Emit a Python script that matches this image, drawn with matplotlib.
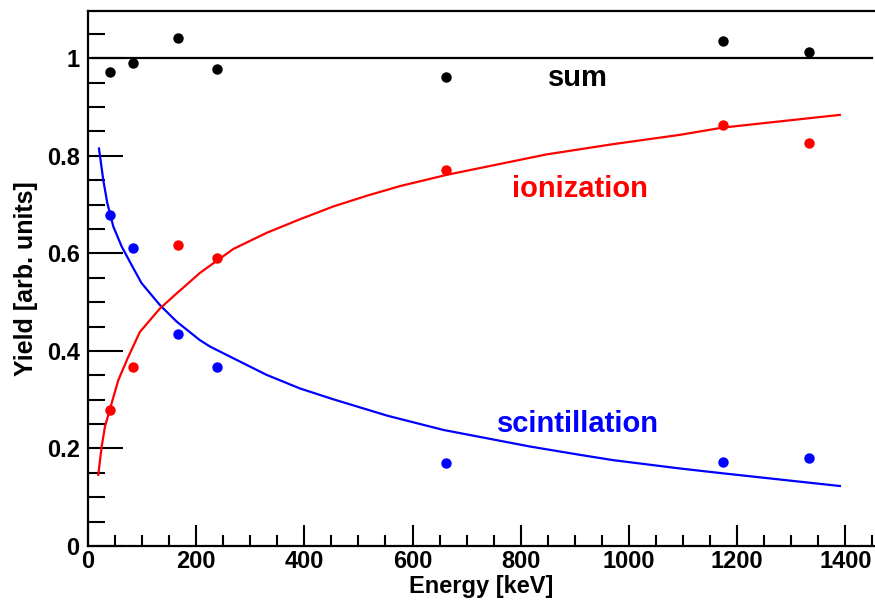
import matplotlib
matplotlib.use("Agg")
import matplotlib.pyplot as plt
from matplotlib.ticker import MultipleLocator

# Measured points
energy = [40, 84, 166, 238, 662, 1174, 1333]
sum_yield = [0.972, 0.990, 1.042, 0.978, 0.962, 1.035, 1.013]
ion_yield = [0.279, 0.367, 0.617, 0.591, 0.771, 0.863, 0.826]
scint_yield = [0.679, 0.611, 0.435, 0.367, 0.170, 0.172, 0.180]

# Fit curves
scint_fit_x = [20.3, 28.3, 35.7, 46.8, 62.3, 80.7, 99, 133, 164, 207, 225.5, 268.6,
               330, 392, 453, 554, 657, 817, 909, 971, 1094, 1174, 1390]
scint_fit_y = [0.815, 0.750, 0.703, 0.655, 0.614, 0.576, 0.539, 0.494, 0.460, 0.422,
               0.409, 0.385, 0.351, 0.323, 0.301, 0.267, 0.238, 0.204, 0.187, 0.176,
               0.159, 0.149, 0.123]
ion_fit_x = [19, 25.3, 31.4, 42, 56, 74.5, 96, 133, 164, 207, 268.6, 330, 392, 453,
             515, 577, 663, 848, 971, 1094, 1174, 1390]
ion_fit_y = [0.146, 0.204, 0.245, 0.286, 0.340, 0.388, 0.439, 0.487, 0.518, 0.560,
             0.609, 0.642, 0.670, 0.696, 0.718, 0.738, 0.761, 0.803, 0.824, 0.843,
             0.858, 0.884]
sum_line_x = [8, 1450]
sum_line_y = [1.0, 1.0]

xlabels = ["0", "200", "400", "600", "800", "1000", "1200", "1400"]
xticks = [0, 200, 400, 600, 800, 1000, 1200, 1400]
yticks = [0, 0.2, 0.4, 0.6, 0.8, 1.0]
ylabels = ["0", "0.2", "0.4", "0.6", "0.8", "1"]

plt.rcParams['font.family'] = ['Liberation Sans', 'DejaVu Sans']

W, H = 875, 605
fig = plt.figure(figsize=(W / 100, H / 100), dpi=100)
ax = fig.add_axes([88 / W, (H - 546) / H, (W - 88) / W, (546 - 11) / H])

ax.plot(sum_line_x, sum_line_y, color='black', lw=1.6)
ax.plot(scint_fit_x, scint_fit_y, color='#0000ff', lw=1.6)
ax.plot(ion_fit_x, ion_fit_y, color='#ff0000', lw=1.6)

ms = 7.5
ax.plot(energy, sum_yield, 'o', color='black', ms=ms, mec='none')
ax.plot(energy, ion_yield, 'o', color='#ff0000', ms=ms, mec='none')
ax.plot(energy, scint_yield, 'o', color='#0000ff', ms=ms, mec='none')

ax.text(906, 0.960, "sum", color='black', fontsize=21, fontweight='bold',
        ha='center', va='center')
ax.text(909, 0.732, "ionization", color='#ff0000', fontsize=21, fontweight='bold',
        ha='center', va='center')
ax.text(906, 0.250, "scintillation", color='#0000ff', fontsize=21, fontweight='bold',
        ha='center', va='center')

ax.set_xlim(0, 1455)
ax.set_ylim(0, 1.097)

ax.set_xticks(xticks)
ax.set_xticklabels(xlabels)
ax.set_yticks(yticks)
ax.set_yticklabels(ylabels)
ax.xaxis.set_minor_locator(MultipleLocator(50))
ax.yaxis.set_minor_locator(MultipleLocator(0.05))

ax.tick_params(axis='both', which='both', direction='in', width=1.5, colors='black',
               labelsize=17)
ax.tick_params(axis='x', which='major', length=15, pad=3)
ax.tick_params(axis='x', which='minor', length=8)
ax.tick_params(axis='y', which='major', length=25, pad=6)
ax.tick_params(axis='y', which='minor', length=12)
ax.tick_params(top=False, right=False)
for lab in ax.get_xticklabels() + ax.get_yticklabels():
    lab.set_fontweight('bold')

for s in ['left', 'bottom', 'top']:
    ax.spines[s].set_linewidth(1.6)
ax.spines['right'].set_visible(False)

ax.set_xlabel("Energy [keV]", fontsize=17, fontweight='bold', labelpad=1)
ax.set_ylabel("Yield [arb. units]", fontsize=18, fontweight='bold', labelpad=6)

fig.savefig("out.png", dpi=100)
